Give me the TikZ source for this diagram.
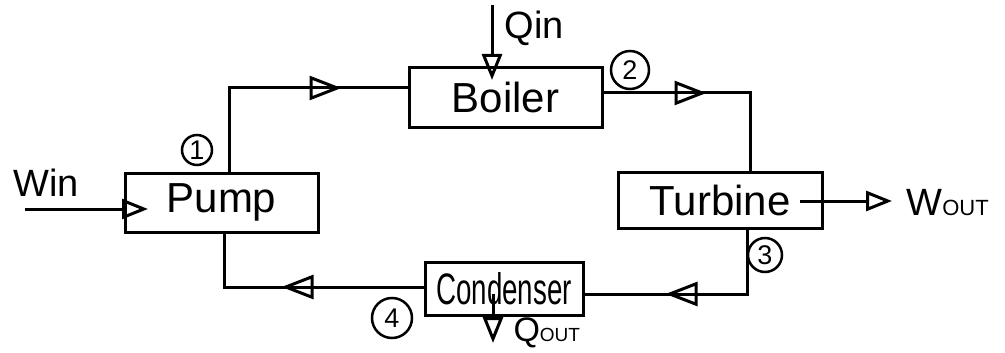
\documentclass[tikz,border=0pt]{standalone}
\usepackage{fontspec}
\setmainfont{Liberation Sans}
\usetikzlibrary{arrows.meta,decorations.markings}
\begin{document}
\begin{tikzpicture}[x=1pt,y=-1pt,line width=3pt,
  box/.style={draw,rectangle,inner sep=0pt,font=\fontsize{42}{42}\selectfont},
  lbl/.style={inner sep=0pt,font=\fontsize{38}{38}\selectfont},
  num/.style={draw,circle,inner sep=0pt,line width=2.5pt,font=\fontsize{27}{27}\selectfont},
  tipend/.style={-{Triangle[open,length=26pt,width=20pt]}},
  midtip/.style={postaction={decorate},decoration={markings,mark=at position #1 with {\arrow{Triangle[open,length=32pt,width=24pt]}}}}
]
\useasboundingbox (0,0) rectangle (1005,353);
% boxes
\node[box,minimum width=193pt,minimum height=59pt] (pump) at (221.5,202.5) {Pump};
\node[box,minimum width=193pt,minimum height=59pt] (boiler) at (505.5,97.5) {Boiler};
\node[box,minimum width=204pt,minimum height=56pt] (turbine) at (720,200) {Turbine};
\node[box,minimum width=158pt,minimum height=53pt] (condenser) at (504,288.5) {\scalebox{0.66}[1.05]{Condenser}};
% corners
\coordinate (c1) at (229,88);
\coordinate (c2) at (750,93);
\coordinate (c3) at (747,294);
\coordinate (c4) at (224,287);
% cycle connectors
\draw[midtip=196pt] (c1 |- pump.north) -- (c1) -- (c1 -| boiler.west);
\draw[midtip=103pt] (c2 -| boiler.east) -- (c2) -- (c2 |- turbine.north);
\draw[midtip=146pt] (c3 |- turbine.south) -- (c3) -- (c3 -| condenser.east);
\draw[midtip=142pt] (c4 -| condenser.west) -- (c4) -- (c4 |- pump.south);
% external flows
\coordinate (winS) at (25,209);
\coordinate (winE) at (148,209);
\draw[tipend] (winS) -- (winE);
\node[lbl] (win) at (46,183) {Win};
\coordinate (qinS) at (492,5);
\coordinate (qinE) at (492,80);
\draw[tipend] (qinS) -- (qinE);
\node[lbl,anchor=west] (qin) at (503,28) {Qin};
\coordinate (woutS) at (800,201);
\coordinate (woutE) at (892,201);
\draw[tipend] (woutS) -- (woutE);
\node[lbl,anchor=west] (wout) at (905,203) {W{\fontsize{22}{22}\selectfont OUT}};
\coordinate (qoutS) at (493,294);
\coordinate (qoutE) at (493,343);
\draw[tipend] (qoutS) -- (qoutE);
\node[lbl,anchor=west] (qout) at (512,333) {\fontsize{34}{34}\selectfont Q{\fontsize{19}{19}\selectfont OUT}};
% state numbers
\node[num,minimum size=30pt] (n1) at (197,150) {1};
\node[num,minimum size=38pt] (n2) at (630,70) {2};
\node[num,minimum size=34pt] (n3) at (765,255) {3};
\node[num,minimum size=40pt] (n4) at (392,318) {4};
\end{tikzpicture}
\end{document}
